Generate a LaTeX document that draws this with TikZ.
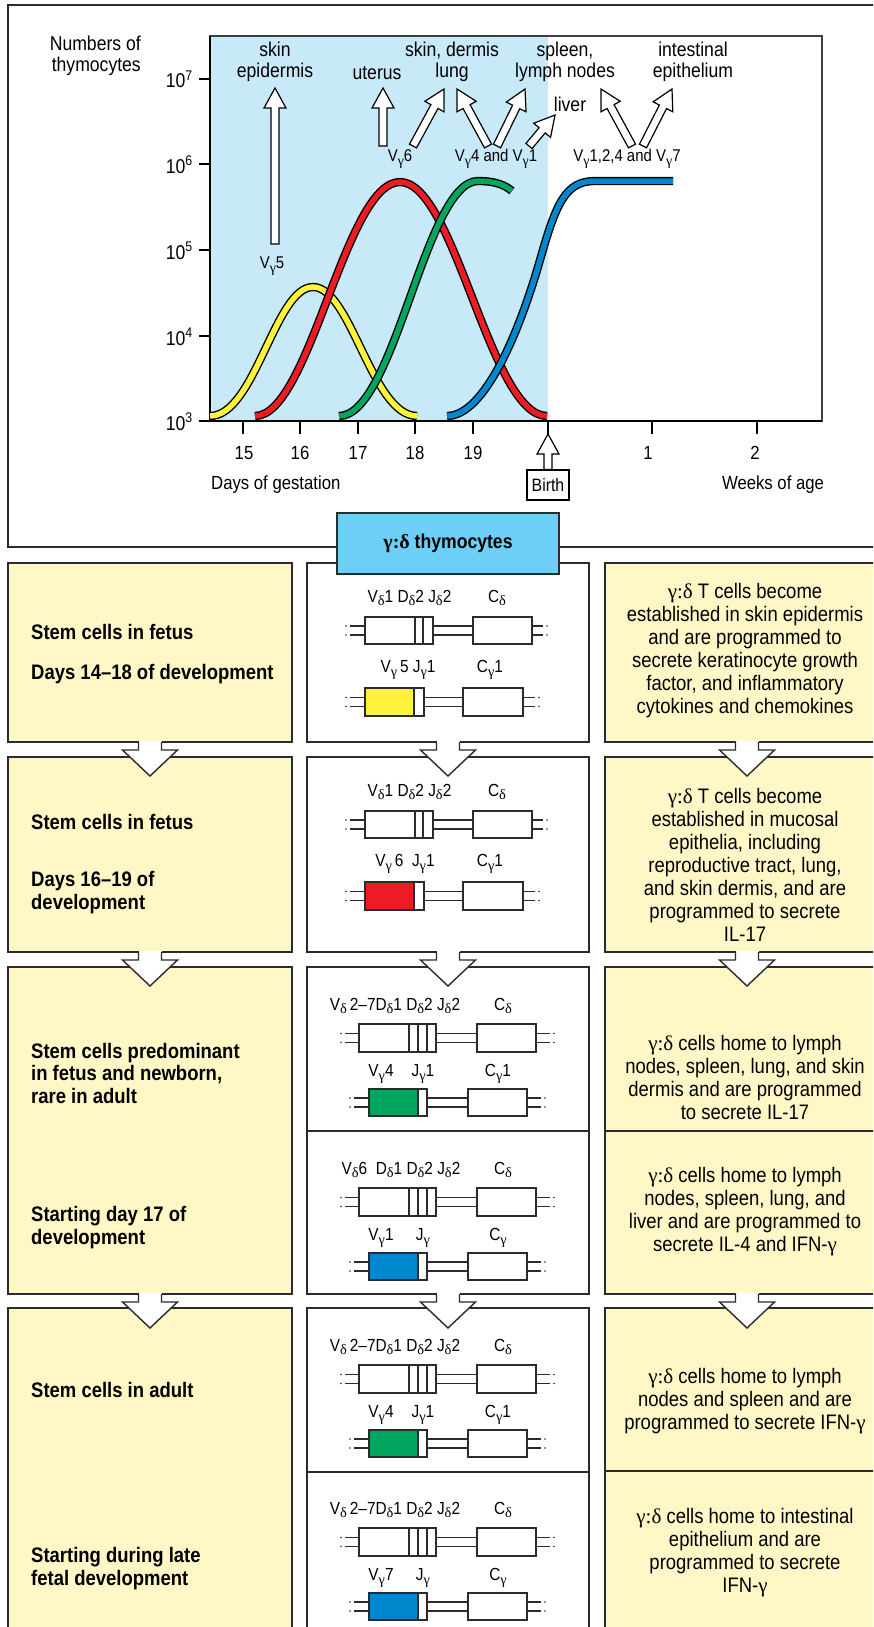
\documentclass[tikz,border=0pt]{standalone}
\usepackage{fontspec}
\setmainfont{Liberation Sans}[FakeStretch=0.88]
\newfontfamily\grk{Liberation Serif}
\usetikzlibrary{calc}
\definecolor{dark}{HTML}{2B2B2B}
\definecolor{ybg}{HTML}{FFF8C6}
\definecolor{pbg}{HTML}{C8E9F8}
\definecolor{hdr}{HTML}{6DCFF6}
\definecolor{cy}{HTML}{FFF23A}
\definecolor{cr}{HTML}{ED1C24}
\definecolor{cg}{HTML}{00A660}
\definecolor{cb}{HTML}{0088CF}
\newcommand\sg{\raisebox{-0.4ex}{\scalebox{0.82}{\grk γ}}}
\newcommand\sd{\raisebox{-0.4ex}{\scalebox{0.82}{\grk δ}}}
\newcommand\gd{{\grk γ:δ}}
\newcommand\gm{{\grk γ}}
\newcommand\gdots[2]{\fill[dark] (#1,#2-4.5) circle (0.8pt) (#1,#2+4.5) circle (0.8pt);}
\newcommand\dbl[3]{\draw[gl] (#1,#3-4.5) -- (#2,#3-4.5) (#1,#3+4.5) -- (#2,#3+4.5);}
\newcommand\geneDA[1]{%
 \gdots{346}{#1+67.5}\dbl{350}{365}{#1+67.5}
 \draw[seg] (365,#1+54) rectangle (415,#1+81);
 \draw[seg] (415,#1+54) rectangle (423,#1+81);
 \draw[seg] (423,#1+54) rectangle (433,#1+81);
 \dbl{433}{473}{#1+67.5}
 \draw[seg] (473,#1+54) rectangle (532,#1+81);
 \dbl{532}{543}{#1+67.5}\gdots{547}{#1+67.5}}
\newcommand\geneGA[2]{%
 \gdots{346}{#1+139}\dbl{350}{365}{#1+139}
 \draw[seg, fill=#2] (365,#1+125) rectangle (414,#1+153);
 \draw[seg] (414,#1+125) rectangle (424,#1+153);
 \dbl{424}{463}{#1+139}
 \draw[seg] (463,#1+125) rectangle (523,#1+153);
 \dbl{523}{535}{#1+139}\gdots{539}{#1+139}}
\newcommand\geneDB[1]{%
 \gdots{341}{#1+71}\dbl{345}{359}{#1+71}
 \draw[seg] (359,#1+57) rectangle (409,#1+85);
 \draw[seg] (409,#1+57) rectangle (418,#1+85);
 \draw[seg] (418,#1+57) rectangle (427,#1+85);
 \draw[seg] (427,#1+57) rectangle (436,#1+85);
 \dbl{436}{477}{#1+71}
 \draw[seg] (477,#1+57) rectangle (536,#1+85);
 \dbl{536}{550}{#1+71}\gdots{554}{#1+71}}
\newcommand\geneGB[2]{%
 \gdots{350}{#1+135.5}\dbl{354}{369}{#1+135.5}
 \draw[seg, fill=#2] (369,#1+122) rectangle (418,#1+149);
 \draw[seg] (418,#1+122) rectangle (427,#1+149);
 \dbl{427}{468}{#1+135.5}
 \draw[seg] (468,#1+122) rectangle (527,#1+149);
 \dbl{527}{541}{#1+135.5}\gdots{545}{#1+135.5}}
\newcommand\hollowarr[2]{%
 \path ($(#2)!20pt!(#1)$) coordinate (hh);
 \draw[holl] ($(#1)!4pt!90:(#2)$) -- ($(hh)!4pt!90:(#2)$) -- ($(hh)!11pt!90:(#2)$) -- (#2)
   -- ($(hh)!11pt!-90:(#2)$) -- ($(hh)!4pt!-90:(#2)$) -- ($(#1)!4pt!-90:(#2)$) -- cycle;}
\newcommand\rowarr[2]{%
 \fill[white] (#1-11.5,#2-1.2) rectangle (#1+11.5,#2+8);
 \filldraw[fill=white, draw=dark, line width=1.4, line join=miter] (#1-11.5,#2) -- (#1-11.5,#2+8) -- (#1-27.5,#2+8) -- (#1,#2+34) -- (#1+27.5,#2+8) -- (#1+11.5,#2+8) -- (#1+11.5,#2);}
\begin{document}
\begin{tikzpicture}[x=1pt,y=-1pt,
 chart/.style={font=\fontsize{20}{21.5}\selectfont, inner sep=0pt, align=center},
 axl/.style={font=\fontsize{19}{21}\selectfont, inner sep=0pt},
 small/.style={font=\fontsize{17}{19}\selectfont, inner sep=0pt},
 gene/.style={font=\fontsize{17.5}{19}\selectfont, inner sep=0pt},
 lefttxt/.style={font=\bfseries\fontsize{21}{22.5}\selectfont, inner sep=0pt, align=left, anchor=west},
 righttxt/.style={font=\fontsize{21}{23}\selectfont, inner sep=0pt, align=center},
 box/.style={draw=dark, line width=1.4},
 seg/.style={draw=dark, line width=1.1, fill=white},
 gl/.style={draw=dark, line width=1.1},
 curve/.style={line width=1.4, draw=black, double distance=5.5},
 holl/.style={draw=black, fill=white, line width=1.2, line join=miter}]
\useasboundingbox (0,0) rectangle (873,1627);
\clip (0,0) rectangle (873,1627);
\fill[white] (0,0) rectangle (873,1627);
% ---------- top frame and plot ----------
\draw[box] (8,5) rectangle (900,547);
\fill[pbg] (210,36) rectangle (548,421);
\draw[draw=black!75, line width=1.2] (210,36) rectangle (822,421);
\draw[line width=2.6, black] (210,36) -- (210,421) -- (822,421);
\foreach \y in {79,164,250,336,421} \draw[line width=2] (199,\y) -- (210,\y);
\node[chart, anchor=base east] (y7) at (193,88) {10\textsuperscript{7}};
\node[chart, anchor=base east] (y6) at (193,173) {10\textsuperscript{6}};
\node[chart, anchor=base east] (y5) at (193,259) {10\textsuperscript{5}};
\node[chart, anchor=base east] (y4) at (193,345) {10\textsuperscript{4}};
\node[chart, anchor=base east] (y3) at (193,430) {10\textsuperscript{3}};
\foreach \x in {243,300,358,415,473,548,652,757} \draw[line width=2] (\x,421) -- (\x,434);
\node[axl] (t15) at (244,453) {15};
\node[axl] (t16) at (300,453) {16};
\node[axl] (t17) at (358,453) {17};
\node[axl] (t18) at (415,453) {18};
\node[axl] (t19) at (473,453) {19};
\node[axl] (t1) at (648,453) {1};
\node[axl] (t2) at (755,453) {2};
\node[axl, anchor=west] (dg) at (211,485) {Days of gestation};
\node[axl] (wa) at (773,485) {Weeks of age};
\node[draw=black, line width=1.2, fill=white, minimum width=42, minimum height=30, inner sep=0pt, font=\fontsize{18}{19}\selectfont] (birth) at (548,485) {Birth};
\coordinate (birthtip) at (548,434);
\hollowarr{birth.north}{birthtip}
% curves
\draw[curve, double=cy] (210,416) .. controls (255,416) and (275,287) .. (313,287) .. controls (351,287) and (372,416) .. (417,416);
\draw[curve, double=cr] (255,416) .. controls (310,416) and (345,182) .. (400,182) .. controls (455,182) and (490,416) .. (547,416);
\draw[curve, double=cg] (339,416) .. controls (395,416) and (425,181) .. (478,181) .. controls (495,181) and (505,185) .. (512,191);
\draw[curve, double=cb] (447,416) .. controls (485,416) and (520,330) .. (540,260) .. controls (556,204) and (565,181) .. (595,181) -- (673,181);
% chart labels
\node[chart, align=right, anchor=east] (nt) at (141,56) {Numbers of\\thymocytes};
\node[chart] (skin) at (275,62) {skin\\epidermis};
\node[chart] (ut) at (377,73) {uterus};
\node[chart] (lung) at (452,62) {skin, dermis\\lung};
\node[chart] (spl) at (565,62) {spleen,\\lymph nodes};
\node[chart] (liv) at (570,104) {liver};
\node[chart] (intl) at (693,62) {intestinal\\epithelium};
\node[small] (v6) at (400,159) {V\sg6};
\node[small] (v41) at (496,159) {V\sg4 and V\sg1};
\node[small] (v1247) at (627,159) {V\sg1,2,4 and V\sg7};
\node[small] (v5) at (272,266) {V\sg5};
\coordinate (a1s) at (275,244); \coordinate (a1e) at (275,88);
\coordinate (a2s) at (383,146); \coordinate (a2e) at (383,88);
\coordinate (a3s) at (413,146); \coordinate (a3e) at (444,89);
\coordinate (a4s) at (488,146); \coordinate (a4e) at (457,89);
\coordinate (a5s) at (497,146); \coordinate (a5e) at (525,89);
\coordinate (a6s) at (529,146); \coordinate (a6e) at (555,115);
\coordinate (a7s) at (632,146); \coordinate (a7e) at (601,89);
\coordinate (a8s) at (643,146); \coordinate (a8e) at (672,89);
\hollowarr{a1s}{a1e}
\hollowarr{a2s}{a2e}
\hollowarr{a3s}{a3e}
\hollowarr{a4s}{a4e}
\hollowarr{a5s}{a5e}
\hollowarr{a6s}{a6e}
\hollowarr{a7s}{a7e}
\hollowarr{a8s}{a8e}
% ---------- lower table ----------
\draw[box, fill=ybg] (8,563) rectangle (292,742);
\draw[box, fill=ybg] (8,757) rectangle (292,952);
\draw[box, fill=ybg] (8,967) rectangle (292,1294);
\draw[box, fill=ybg] (8,1308) rectangle (292,1650);
\draw[box, fill=white] (307,563) rectangle (589,742);
\draw[box, fill=white] (307,757) rectangle (589,952);
\draw[box, fill=white] (307,967) rectangle (589,1294);
\draw[box, fill=white] (307,1308) rectangle (589,1650);
\draw[box] (307,1131) -- (589,1131);
\draw[box] (307,1472) -- (589,1472);
\draw[box, fill=ybg] (605,563) rectangle (900,742);
\draw[box, fill=ybg] (605,757) rectangle (900,952);
\draw[box, fill=ybg] (605,967) rectangle (900,1294);
\draw[box, fill=ybg] (605,1308) rectangle (900,1650);
\draw[box] (605,1131) -- (900,1131);
\draw[box] (605,1471) -- (900,1471);
\node[box, fill=hdr, minimum width=222, minimum height=61, inner sep=0pt, font=\bfseries\fontsize{20}{22}\selectfont] (hdr) at (448,543.5) {\gd{} thymocytes};
% arrows between rows
\foreach \b in {742,952,1294} {\rowarr{150}{\b}\rowarr{448}{\b}\rowarr{747}{\b}}
% genes
\geneDA{563}\geneGA{563}{cy}
\geneDA{757}\geneGA{757}{cr}
\geneDB{967}\geneGB{967}{cg}
\geneDB{1131}\geneGB{1131}{cb}
\geneDB{1308}\geneGB{1308}{cg}
\geneDB{1471}\geneGB{1471}{cb}
\node[gene] (d1) at (409.5,598) {V\sd1 D\sd2 J\sd2};
\node[gene] (c1) at (497,598) {C\sd};
\node[gene] (g1) at (408,670) {V\sg\,5 J\sg1};
\node[gene] (cg1) at (490,670) {C\sg1};
\node[gene] (d2) at (409.5,792) {V\sd1 D\sd2 J\sd2};
\node[gene] (c2) at (497,792) {C\sd};
\node[gene] (g2) at (405,864) {V\sg\,6\ \ J\sg1};
\node[gene] (cg2) at (490,864) {C\sg1};
\node[gene] (d3) at (395,1006) {V\sd\,2–7D\sd1 D\sd2 J\sd2};
\node[gene] (c3) at (503,1006) {C\sd};
\node[gene] (g3v) at (381,1074) {V\sg4};
\node[gene] (g3j) at (423,1074) {J\sg1};
\node[gene] (g3c) at (498,1074) {C\sg1};
\node[gene] (d4) at (401,1170) {V\sd6\ \ D\sd1 D\sd2 J\sd2};
\node[gene] (c4) at (503,1170) {C\sd};
\node[gene] (g4v) at (381,1238) {V\sg1};
\node[gene] (g4j) at (423,1238) {J\sg};
\node[gene] (g4c) at (498,1238) {C\sg};
\node[gene] (d5) at (395,1347) {V\sd\,2–7D\sd1 D\sd2 J\sd2};
\node[gene] (c5) at (503,1347) {C\sd};
\node[gene] (g5v) at (381,1415) {V\sg4};
\node[gene] (g5j) at (423,1415) {J\sg1};
\node[gene] (g5c) at (498,1415) {C\sg1};
\node[gene] (d6) at (395,1510) {V\sd\,2–7D\sd1 D\sd2 J\sd2};
\node[gene] (c6) at (503,1510) {C\sd};
\node[gene] (g6v) at (381,1578) {V\sg7};
\node[gene] (g6j) at (423,1578) {J\sg};
\node[gene] (g6c) at (498,1578) {C\sg};
% left texts
\node[lefttxt] (l1a) at (31,632) {Stem cells in fetus};
\node[lefttxt] (l1b) at (31,674) {Days 14–18 of development};
\node[lefttxt] (l2a) at (31,822) {Stem cells in fetus};
\node[lefttxt] (l2b) at (31,892.5) {Days 16–19 of\\development};
\node[lefttxt] (l3a) at (31,1073) {Stem cells predominant\\in fetus and newborn,\\rare in adult};
\node[lefttxt] (l3b) at (31,1227.5) {Starting day 17 of\\development};
\node[lefttxt] (l4a) at (31,1390) {Stem cells in adult};
\node[lefttxt] (l4b) at (31,1568.5) {Starting during late\\fetal development};
% right texts
\node[righttxt] (r1) at (745,650.5) {\gd{} T cells become\\established in skin epidermis\\and are programmed to\\secrete keratinocyte growth\\factor, and inflammatory\\cytokines and chemokines};
\node[righttxt] (r2) at (745,864.5) {\gd{} T cells become\\established in mucosal\\epithelia, including\\reproductive tract, lung,\\and skin dermis, and are\\programmed to secrete\\IL-17};
\node[righttxt] (r3a) at (745,1077.5) {\gd{} cells home to lymph\\nodes, spleen, lung, and skin\\dermis and are programmed\\to secrete IL-17};
\node[righttxt] (r3b) at (745,1211.5) {\gd{} cells home to lymph\\nodes, spleen, lung, and\\liver and are programmed to\\secrete IL-4 and IFN-\gm};
\node[righttxt] (r4a) at (745,1401) {\gd{} cells home to lymph\\nodes and spleen and are\\programmed to secrete IFN-\gm};
\node[righttxt] (r4b) at (745,1553) {\gd{} cells home to intestinal\\epithelium and are\\programmed to secrete\\IFN-\gm};
\end{tikzpicture}
\end{document}
